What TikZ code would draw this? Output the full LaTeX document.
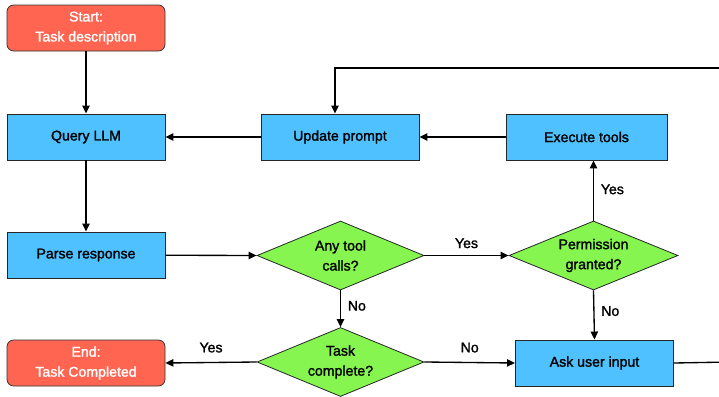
\documentclass[tikz,border=0pt]{standalone}
\usepackage{fontspec}
\setmainfont{Liberation Sans}
\newfontfamily\medfont{Liberation Sans}[FakeBold=1.5]
\usetikzlibrary{shapes.geometric,arrows.meta}
\definecolor{redbox}{HTML}{FF6550}
\definecolor{bluebox}{HTML}{4FC1FF}
\definecolor{greenbox}{HTML}{86F550}
\begin{document}
\begin{tikzpicture}[x=0.75pt,y=-0.75pt,
  font=\medfont\fontsize{10.6pt}{15pt}\selectfont,
  term/.style={draw=black!80, line width=0.6pt, fill=redbox, rounded corners=5pt, minimum width=158*0.75pt, minimum height=46*0.75pt, text=white, align=center, inner sep=0pt},
  proc/.style={draw=black!85, line width=0.7pt, fill=bluebox, minimum width=158*0.75pt, minimum height=46*0.75pt, align=center, inner sep=0pt},
  dec/.style={draw=black!85, line width=0.6pt, fill=greenbox, diamond, minimum width=167*0.75pt, minimum height=69*0.75pt, inner sep=0pt},
  conn/.style={line width=1pt, -{Triangle[length=6pt,width=5.5pt]}},
  plain/.style={line width=1pt},
  lbl/.style={inner sep=1pt}
]
\useasboundingbox (0,0) rectangle (719,397);
\clip (0,0) rectangle (719,397);

\node[term] (start) at (86,28) {Start:\\Task description};
\node[proc] (query) at (86,137) {Query LLM};
\node[proc] (update) at (340,137) {Update prompt};
\node[proc, minimum width=161*0.75pt] (exec) at (586.5,137) {Execute tools};
\node[proc] (parse) at (86,255) {Parse response};
\node[dec] (d1) at (340.5,255.5) {};
\node[align=center] at (d1) {Any tool\\calls?};
\node[dec, minimum width=169*0.75pt] (d2) at (593.5,255.5) {};
\node[align=center] at (d2) {Permission\\granted?};
\node[dec] (d3) at (340.5,362) {};
\node[align=center] at (d3) {Task\\complete?};
\node[term] (end) at (86,363) {End:\\Task Completed};
\node[proc] (ask) at (594.5,363) {Ask user input};

\coordinate (offR) at (730,362);
\coordinate (offT) at (730,68);
\coordinate (loopTop) at (335,68);

\draw[conn] (start) -- (query);
\draw[conn] (query) -- (parse);
\draw[conn] (parse) -- (d1.west);
\draw[conn] (d1.east) -- node[lbl, above=4pt] {Yes} (d2.west);
\draw[conn] (d2.north) -- node[lbl, right=4pt, pos=0.52] {Yes} (d2.north |- exec.south);
\draw[conn] (exec) -- (update);
\draw[conn] (update) -- (query);
\draw[conn] (d1.south) -- node[lbl, right=4pt, pos=0.42] {No} (d3.north);
\draw[conn] (d3.west) -- node[lbl, above=6pt] {Yes} (end.east);
\draw[conn] (d3.east) -- node[lbl, above=6pt] {No} (ask.west);
\draw[conn] (d2.south) -- node[lbl, right=4pt, pos=0.42] {No} (ask.north);
\draw[plain] (ask.east) -- (offR);
\draw[conn] (offT) -- (loopTop) -- (loopTop |- update.north);
\end{tikzpicture}
\end{document}
